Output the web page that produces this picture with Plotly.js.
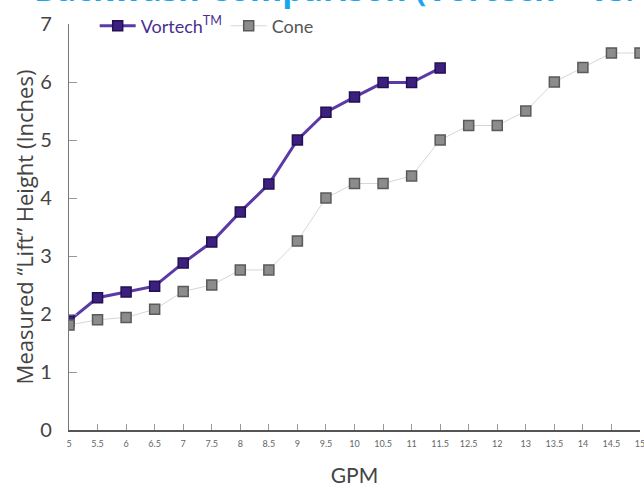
<!DOCTYPE html>
<html>
<head>
<meta charset="utf-8">
<script src="https://cdn.plot.ly/plotly-3.0.1.min.js"></script>
<style>html,body{margin:0;padding:0;background:#fff;}#chart{width:644px;height:488px;}</style>
</head>
<body>
<div id="chart"></div>
<script>
var gpmLabels = ["5","5.5","6","6.5","7","7.5","8","8.5","9","9.5","10","10.5","11","11.5","12.5","12","13","13.5","14","14.5","15"];
var vortechValues = [1.88,2.28,2.38,2.48,2.88,3.24,3.76,4.24,5.0,5.48,5.74,5.99,5.99,6.24];
var coneValues = [1.81,1.9,1.94,2.08,2.39,2.5,2.76,2.76,3.26,4.0,4.25,4.25,4.38,5.0,5.25,5.25,5.5,6.0,6.25,6.5,6.5];
var yTicks = [0,1,2,3,4,5,6,7];

var traces = [
  {
    x: gpmLabels.slice(0, vortechValues.length),
    y: vortechValues,
    name: '<span style="color:#4b2e91">Vortech<sup style="font-size:11px">TM</sup></span>',
    mode: 'lines+markers',
    line: {color: '#5a3ba6', width: 3},
    marker: {symbol: 'square', size: 10, color: '#3b2080', line: {color: '#241050', width: 1.5}}
  },
  {
    x: gpmLabels,
    y: coneValues,
    name: '<span style="color:#555">Cone</span>',
    mode: 'lines+markers',
    line: {color: '#d6d6d6', width: 1},
    marker: {symbol: 'square', size: 10, color: '#8c8c8c', line: {color: '#5a5a5a', width: 1.5}}
  }
];

var layout = {
  width: 644, height: 488,
  margin: {l: 69, r: 4, t: 24, b: 58},
  paper_bgcolor: '#ffffff', plot_bgcolor: '#ffffff',
  font: {family: 'Lato, "Open Sans", sans-serif', color: '#444'},
  showlegend: true,
  legend: {
    orientation: 'h', x: 0.045, y: 0.995, xanchor: 'left', yanchor: 'middle',
    bgcolor: 'rgba(0,0,0,0)', font: {size: 18, color: '#555'},
    itemwidth: 36, entrywidth: 80, tracegroupgap: 0
  },
  xaxis: {
    type: 'category', categoryorder: 'array', categoryarray: gpmLabels,
    range: [0, 20],
    showgrid: false, zeroline: false,
    showline: true, linecolor: '#555', linewidth: 1.5,
    ticks: 'inside', ticklen: 6, tickcolor: '#999',
    tickfont: {size: 9, color: '#666'},
    ticklabelstandoff: 5,
    title: {text: 'GPM', font: {size: 21, color: '#444'}, standoff: 20}
  },
  yaxis: {
    range: [0, 7], tickvals: yTicks,
    showgrid: false, zeroline: false,
    showline: true, linecolor: '#777', linewidth: 1.2,
    ticks: 'inside', ticklen: 8, tickcolor: '#999',
    tickfont: {size: 20, color: '#444'},
    ticklabelstandoff: 12,
    title: {text: 'Measured \u201cLift\u201d Height (Inches)', font: {family: '"Open Sans", sans-serif', size: 22, color: '#444'}, standoff: 0}
  },
  annotations: [
    {
      text: '<b>Backwash Comparison (Vortech\u2122 vs. Cone)</b>',
      xref: 'paper', yref: 'paper',
      x: -0.065, y: 1.028, xanchor: 'left', yanchor: 'bottom',
      showarrow: false,
      font: {family: '"Open Sans", sans-serif', size: 33, color: '#1aa6ee'}
    }
  ]
};

Plotly.newPlot('chart', traces, layout, {displayModeBar: false, staticPlot: true});
</script>
</body>
</html>
